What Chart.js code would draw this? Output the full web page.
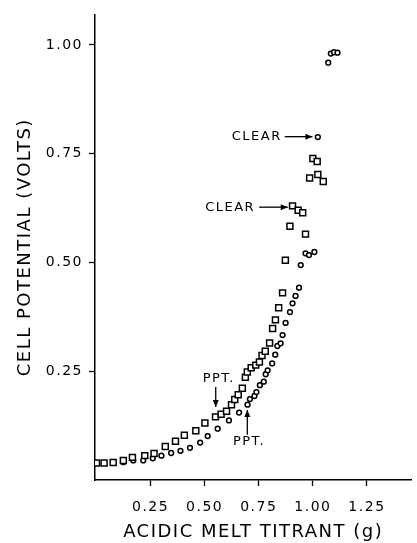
<!DOCTYPE html>
<html>
<head>
<meta charset="utf-8">
<script src="https://cdn.jsdelivr.net/npm/chart.js@4.4.1/dist/chart.umd.min.js"></script>
<style>
  body { margin: 0; background: #fff; }
  canvas { display: block; }
</style>
</head>
<body>
<canvas id="chart" width="417" height="543"></canvas>
<script>
// titrant added (g) and cell potential (V)
const squareX = [0.0, 0.035, 0.077, 0.124, 0.166, 0.223, 0.266, 0.318, 0.365, 0.406, 0.459, 0.501, 0.550,
  0.576, 0.601, 0.624, 0.639, 0.655, 0.674, 0.688, 0.697, 0.715, 0.736, 0.753, 0.765, 0.780, 0.800,
  0.814, 0.827, 0.842, 0.860, 0.873, 0.894, 0.906, 0.932, 0.953, 0.966, 0.985, 1.000, 1.020, 1.023, 1.048];
const squareY = [0.039, 0.039, 0.040, 0.045, 0.052, 0.056, 0.061, 0.077, 0.089, 0.103, 0.113, 0.131, 0.145,
  0.151, 0.158, 0.173, 0.185, 0.196, 0.211, 0.236, 0.248, 0.258, 0.264, 0.271, 0.286, 0.296, 0.315,
  0.348, 0.368, 0.396, 0.430, 0.505, 0.583, 0.630, 0.620, 0.614, 0.565, 0.694, 0.739, 0.732, 0.702, 0.686];

const circleX = [0.0, 0.124, 0.170, 0.216, 0.260, 0.300, 0.345, 0.388, 0.432, 0.479, 0.514, 0.560, 0.612,
  0.659, 0.698, 0.709, 0.730, 0.739, 0.755, 0.773, 0.782, 0.791, 0.812, 0.826, 0.836, 0.851, 0.860,
  0.874, 0.894, 0.906, 0.920, 0.936, 0.944, 0.966, 0.982, 1.007, 1.023, 1.071, 1.083, 1.098, 1.114];
const circleY = [0.039, 0.041, 0.045, 0.045, 0.050, 0.056, 0.062, 0.067, 0.074, 0.086, 0.101, 0.118, 0.137,
  0.155, 0.173, 0.186, 0.193, 0.202, 0.218, 0.226, 0.243, 0.252, 0.268, 0.288, 0.308, 0.314, 0.333,
  0.361, 0.386, 0.406, 0.423, 0.442, 0.494, 0.521, 0.517, 0.524, 0.788, 0.959, 0.980, 0.983, 0.982];

const xTicks = [0.25, 0.50, 0.75, 1.00, 1.25];
const yTicks = [0.25, 0.50, 0.75, 1.00];

// text notes on the plot: label, where the text sits, arrow start and end (data units)
const notes = [
  { text: "CLEAR", x: 0.856, y: 0.789, align: "right", from: [0.870, 0.789], to: [0.998, 0.789] },
  { text: "CLEAR", x: 0.733, y: 0.627, align: "right", from: [0.752, 0.627], to: [0.884, 0.627] },
  { text: "PPT.", x: 0.565, y: 0.234, align: "center", from: [0.551, 0.214], to: [0.551, 0.168] },
  { text: "PPT.", x: 0.705, y: 0.089, align: "center", from: [0.697, 0.104], to: [0.697, 0.161] }
];

const toPoints = (xs, ys) => xs.map((x, i) => ({ x: x, y: ys[i] }));
const fontName = "'DejaVu Sans', sans-serif";

const notesPlugin = {
  id: "notes",
  afterDatasetsDraw(chart) {
    const ctx = chart.ctx;
    const sx = chart.scales.x, sy = chart.scales.y;
    ctx.save();
    ctx.fillStyle = "#000";
    ctx.strokeStyle = "#000";
    ctx.lineWidth = 1.3;
    ctx.font = "13px " + fontName;
    ctx.textBaseline = "middle";
    notes.forEach(n => {
      ctx.textAlign = n.align;
      ctx.fillText(n.text, sx.getPixelForValue(n.x), sy.getPixelForValue(n.y));
      let x1 = sx.getPixelForValue(n.from[0]), y1 = sy.getPixelForValue(n.from[1]);
      let x2 = sx.getPixelForValue(n.to[0]), y2 = sy.getPixelForValue(n.to[1]);
      ctx.beginPath();
      ctx.moveTo(x1, y1);
      ctx.lineTo(x2, y2);
      ctx.stroke();
      let ang = Math.atan2(y2 - y1, x2 - x1);
      ctx.beginPath();
      ctx.moveTo(x2, y2);
      ctx.lineTo(x2 - 7 * Math.cos(ang) + 3 * Math.sin(ang), y2 - 7 * Math.sin(ang) - 3 * Math.cos(ang));
      ctx.lineTo(x2 - 7 * Math.cos(ang) - 3 * Math.sin(ang), y2 - 7 * Math.sin(ang) + 3 * Math.cos(ang));
      ctx.closePath();
      ctx.fill();
    });
    ctx.restore();
  }
};

const spacing = {
  id: "spacing",
  beforeDraw(chart) { chart.ctx.letterSpacing = "1.5px"; }
};

new Chart(document.getElementById("chart"), {
  type: "scatter",
  data: {
    datasets: [
      {
        label: "squares",
        data: toPoints(squareX, squareY),
        pointStyle: "rect",
        pointRadius: 4.2,
        borderColor: "#000",
        backgroundColor: "#fff",
        borderWidth: 1.5
      },
      {
        label: "circles",
        data: toPoints(circleX, circleY),
        pointStyle: "circle",
        pointRadius: 2.4,
        borderColor: "#000",
        backgroundColor: "#fff",
        borderWidth: 1.5
      }
    ]
  },
  options: {
    responsive: false,
    animation: false,
    layout: { padding: { top: 11, right: 0, left: 0, bottom: 0 } },
    plugins: { legend: { display: false }, tooltip: { enabled: false } },
    scales: {
      x: {
        type: "linear",
        min: -0.007,
        max: 1.455,
        afterBuildTicks: axis => { axis.ticks = xTicks.map(v => ({ value: v })); },
        afterFit: axis => { axis.height = 63; },
        ticks: {
          color: "#000",
          font: { family: fontName, size: 14 },
          padding: 13,
          callback: v => v.toFixed(2)
        },
        grid: { drawOnChartArea: false, tickLength: 6, color: "#000", tickWidth: 1.3 },
        border: { color: "#000", width: 1.5 },
        title: {
          display: true,
          text: "ACIDIC MELT TITRANT (g)",
          color: "#000",
          font: { family: fontName, size: 18 },
          padding: { top: 0, bottom: 0 }
        }
      },
      y: {
        type: "linear",
        min: 0,
        max: 1.07,
        afterBuildTicks: axis => { axis.ticks = yTicks.map(v => ({ value: v })); },
        afterFit: axis => { axis.width = 95; },
        ticks: {
          color: "#000",
          font: { family: fontName, size: 14 },
          padding: 6,
          callback: v => v.toFixed(2)
        },
        grid: { drawOnChartArea: false, tickLength: 6, color: "#000", tickWidth: 1.3 },
        border: { color: "#000", width: 1.5 },
        title: {
          display: true,
          text: "CELL POTENTIAL (VOLTS)",
          color: "#000",
          font: { family: fontName, size: 18 },
          padding: { top: 15, bottom: 0 }
        }
      }
    }
  },
  plugins: [spacing, notesPlugin]
});
</script>
</body>
</html>
